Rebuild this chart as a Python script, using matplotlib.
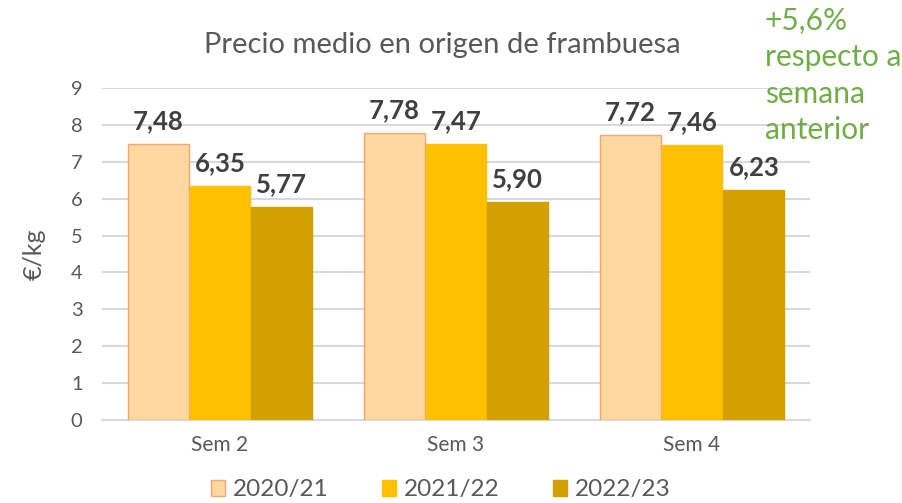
import numpy as np
import matplotlib.pyplot as plt

plt.rcParams['font.family'] = ['Lato', 'DejaVu Sans']

# Data
semanas = ['Sem 2', 'Sem 3', 'Sem 4']
campanas = ['2020/21', '2021/22', '2022/23']
precio_2020_21 = [7.48, 7.78, 7.72]
precio_2021_22 = [6.35, 7.47, 7.46]
precio_2022_23 = [5.77, 5.90, 6.23]
series = [precio_2020_21, precio_2021_22, precio_2022_23]
colores = ['#FFD8A0', '#FFC000', '#D4A000']
bordes = ['#F4A672', '#FFC000', '#D4A000']

fig = plt.figure(figsize=(9.03, 5.03), dpi=100)
ax = fig.add_axes([102 / 903, 83 / 503, 708 / 903, 332 / 503])

x = np.arange(len(semanas))
w = 0.262
for i, vals in enumerate(series):
    pos = x + (i - 1) * w
    ax.bar(pos, vals, width=w * 0.985, color=colores[i], edgecolor=bordes[i],
           linewidth=1.0, label=campanas[i], zorder=3)
    for px, v in zip(pos, vals):
        ax.text(px, v + 0.3, f'{v:.2f}'.replace('.', ','), ha='center', va='bottom',
                fontsize=18.5, fontweight='bold', color='#404040', zorder=4)

ax.set_xlim(-0.5, 2.5)
ax.set_ylim(0, 9)
ax.set_yticks(range(0, 10))
ax.set_xticks(x)
ax.set_xticklabels(semanas)
ax.grid(axis='y', color='#D9D9D9', linewidth=1.5, zorder=0)
for s in ['top', 'right', 'left']:
    ax.spines[s].set_visible(False)
ax.spines['bottom'].set_color('#D9D9D9')
ax.spines['bottom'].set_linewidth(1.5)
ax.tick_params(axis='y', length=0, labelsize=14.5, labelcolor='#595959', pad=14)
ax.tick_params(axis='x', length=0, labelsize=15, labelcolor='#595959', pad=11)
ax.set_ylabel('€/kg', fontsize=18, color='#595959', labelpad=18)

fig.text(442 / 903, 1 - 45 / 503, 'Precio medio en origen de frambuesa',
         ha='center', va='center', fontsize=21, color='#595959')

fig.text(765 / 903, 1 - 7 / 503, '+5,6%\nrespecto a\nsemana\nanterior',
         ha='left', va='top', fontsize=21.5, color='#70AD47', linespacing=1.36)

ax.legend(loc='upper center', bbox_to_anchor=(0.478, -0.135), ncol=3, frameon=False,
          fontsize=17.5, labelcolor='#595959', handlelength=0.6, handleheight=0.6,
          handletextpad=0.3, columnspacing=2.2, borderpad=0.1)

fig.savefig('out.png', dpi=100)
